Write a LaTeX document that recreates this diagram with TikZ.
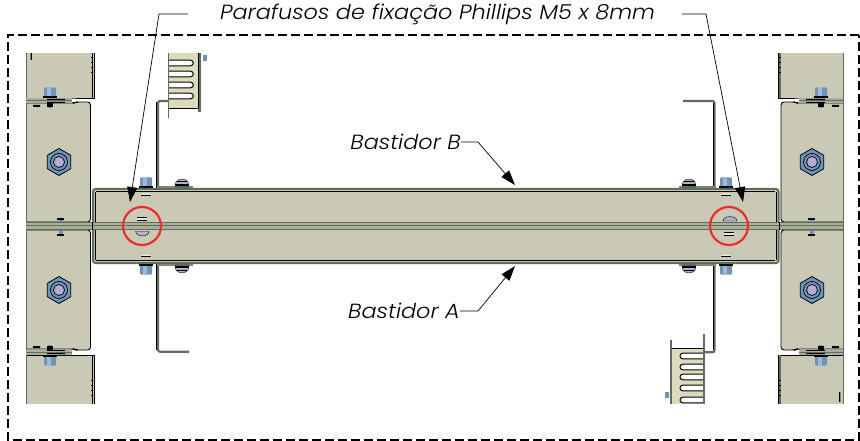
\documentclass[tikz,border=0pt]{standalone}
\usepackage{fontspec}
\setmainfont[FakeStretch=1.09,ItalicFont={Poppins Light Italic}]{Poppins}
\usetikzlibrary{arrows.meta}
\definecolor{plate}{HTML}{C9C9B6}
\definecolor{edge}{HTML}{5F6E5C}
\definecolor{band}{HTML}{A9B09A}
\definecolor{comb}{HTML}{DCDCBC}
\definecolor{blu}{HTML}{6E94BA}
\definecolor{lil}{HTML}{B4B0D2}
\definecolor{redc}{HTML}{EE2C2C}
\tikzset{
  plt/.style={fill=plate,draw=black,line width=.9pt,line join=round},
  gline/.style={draw=edge,line width=1pt},
  brk/.style={draw=edge,line width=2.2pt,line join=round,rounded corners=2pt},
  brkk/.style={draw=black,line width=.8pt},
  lbl/.style={font=\itshape\fontsize{20.5}{22}\selectfont,inner sep=0pt,text=black},
  lead/.style={draw=black,line width=.7pt,-{Triangle[length=15pt,width=10pt]}},
  ring/.style={draw=redc,line width=2.2pt},
  frame/.style={draw=black,line width=2.6pt,dash pattern=on 9pt off 4pt},
}
\newcommand{\hexnut}[2]{%
  \begin{scope}[shift={(#1,#2)}]
    \fill[blu,draw=black,line width=.8pt] (90:13.5)--(30:13.5)--(-30:13.5)--(-90:13.5)--(-150:13.5)--(150:13.5)--cycle;
    \draw[black,line width=.7pt,fill=blu] (0,0) circle (8.5);
    \draw[black,line width=.7pt,fill=lil] (0,0) circle (5.5);
  \end{scope}}
\newcommand{\bluescrew}[3]{%
  \begin{scope}[shift={(#1,#2)},yscale=#3]
    \fill[blu,rounded corners=1pt] (-6,1) rectangle (6,10.5);
    \fill[blu!65!white] (-3,1) rectangle (1,10.5);
    \fill[black] (-7,0) rectangle (7,2);
  \end{scope}}
\newcommand{\silverscrew}[3]{%
  \begin{scope}[shift={(#1,#2)},yscale=#3]
    \fill[lil,draw=black,line width=.4pt] (-7,1.5) -- (7,1.5) -- (6,6) .. controls (3,10) and (-3,10) .. (-6,6) -- cycle;
    \fill[black] (-7,2) rectangle (7,4);
    \fill[black] (-5,6) rectangle (5,6.8);
    \fill[edge] (-7,0) rectangle (7,2);
  \end{scope}}
\newcommand{\dashmark}[2]{%
  \fill[white!60!plate] (#1-5,#2-1.6) rectangle (#1+5,#2+1.6);
  \draw[black,line width=.7pt] (#1-5,#2-1.6) -- (#1+5,#2-1.6) (#1-5,#2+1.6) -- (#1+5,#2+1.6);}
\newcommand{\arcmark}[3]{%
  \fill[white!60!plate] (#1-6,#2) .. controls (#1-3,#2-#3*3) and (#1+3,#2-#3*3) .. (#1+6,#2) -- cycle;
  \draw[black,line width=1pt] (#1-5,#2) -- (#1+5,#2);}
% slot of a comb: open at x=#1, rounded at x=#2, centre y=#3
\newcommand{\slot}[3]{%
  \fill[white] (#1,#3-2.8) -- (#2,#3-2.8) .. controls (#2+3.7,#3-2.8) and (#2+3.7,#3+2.8) .. (#2,#3+2.8) -- (#1,#3+2.8) -- cycle;
  \draw[black,line width=1pt] (#1,#3-2.8) -- (#2,#3-2.8) .. controls (#2+3.7,#3-2.8) and (#2+3.7,#3+2.8) .. (#2,#3+2.8) -- (#1,#3+2.8);}
\newcommand{\slotr}[3]{%
  \fill[white] (#1,#3-2.8) -- (#2,#3-2.8) .. controls (#2-3.7,#3-2.8) and (#2-3.7,#3+2.8) .. (#2,#3+2.8) -- (#1,#3+2.8) -- cycle;
  \draw[black,line width=1pt] (#1,#3-2.8) -- (#2,#3-2.8) .. controls (#2-3.7,#3-2.8) and (#2-3.7,#3+2.8) .. (#2,#3+2.8) -- (#1,#3+2.8);}
\begin{document}
\begin{tikzpicture}[x=1pt,y=-1pt]
\useasboundingbox (0,0) rectangle (860,441);
% frame
\draw[frame] (859,35) -- (8,35) -- (8,440) -- (859,440) -- cycle;

% top comb left
\fill[comb] (168,53) rectangle (199,108);
\foreach \y in {63,74,85,96}{\slot{169}{190.5}{\y}}
\draw[black,line width=.8pt] (168,108) -- (199,108);
\draw[edge,line width=1.6pt] (168.5,53) -- (168.5,118);
\draw[edge,line width=2.6pt] (199.5,53) -- (199.5,112);
\draw[black,line width=.7pt] (198,53) -- (198,108);
\fill[blu] (203,55) rectangle (207,61);
% brackets
\draw[brk] (158,188) -- (158,101) -- (168,101);
\draw[brkk] (156.3,188) -- (156.3,102);
\draw[brk] (158,264) -- (158,351.7) -- (189,351.7);
\draw[brkk] (156.3,264) -- (156.3,350);
\draw[brk] (714.5,188) -- (714.5,101) -- (683,101);
\draw[brkk] (713,188) -- (713,103);
\draw[brk] (714.5,264) -- (714.5,352.3) -- (704,352.3);
\draw[brkk] (713,264) -- (713,350);
% foot strips of the brackets
\foreach \a/\b in {157/193,679/716}{
  \fill[edge!70!plate] (\a,186.3) rectangle (\b,189);
  \fill[edge!70!plate] (\a,263) rectangle (\b,265.7);
}
% bottom-right comb
\fill[comb] (672,348) rectangle (703,404);
\foreach \y in {356,367,377,388,400}{\slotr{703.5}{682.8}{\y}}
\draw[black,line width=.8pt] (672,348) -- (703,348);
\draw[edge,line width=2.6pt] (671,340) -- (671,404);
\draw[edge,line width=1.4pt] (704,334) -- (704,404);
\fill[blu] (665,392) rectangle (669,398);

% left column
\draw[plt] (26,53) -- (26,98) -- (94,98) -- (94,53);
\draw[plt] (26,404) -- (26,355) -- (94,355) -- (94,404);
\draw[plt,rounded corners=3pt] (26,103) -- (74,103) -- (76,102) -- (90.5,102) -- (90.5,222) -- (26,222);
\draw[plt,rounded corners=3pt] (26,230) -- (90.5,230) -- (90.5,350) -- (76,350) -- (74,349) -- (26,349);
\draw[black,line width=.7pt] (92,53) -- (92,98) (92,355) -- (92,404);
\draw[gline] (26,53) -- (26,404);
% right column
\draw[plt] (843,53) -- (843,98) -- (778,98) -- (778,53);
\draw[plt] (843,404) -- (843,355) -- (778,355) -- (778,404);
\draw[plt,rounded corners=3pt] (843,103) -- (797,103) -- (795,102) -- (781,102) -- (781,222) -- (843,222);
\draw[plt,rounded corners=3pt] (843,230) -- (781,230) -- (781,350) -- (795,350) -- (797,349) -- (843,349);
\draw[edge,line width=1.6pt] (779.7,53) -- (779.7,98) (779.7,355) -- (779.7,404);
\draw[gline] (843,53) -- (843,404);
% ticks on the block sides
\foreach \y in {57,62,67,72}{\draw[black,line width=.9pt] (91,\y) -- (93,\y) (91,\y+323) -- (93,\y+323) (778,\y) -- (781,\y) (778,\y+323) -- (781,\y+323);}
\draw[edge!70!plate,line width=1.6pt] (30.5,53) -- (30.5,60) (840.5,392) -- (840.5,402);
\draw[black,line width=.5pt] (31.5,53) -- (31.5,60) (839.5,392) -- (839.5,402);
% upper/lower joints of the columns
\foreach \a/\b in {26/72,799/843}{
  \fill[band] (\a,98.5) rectangle (\b,103);
  \fill[band] (\a,350) rectangle (\b,354.5);
  \draw[edge,line width=.8pt] (\a,100.7) -- (\b,100.7) (\a,352.3) -- (\b,352.3);
}
\fill[white] (72,98.6) rectangle (76,102) (72,351) rectangle (76,354.6) (795,98.6) rectangle (799,102) (795,351) rectangle (799,354.6);
\fill[black] (47,99) rectangle (65,100) (47,102) rectangle (65,102.8) (47,350) rectangle (65,350.8) (47,353) rectangle (65,354);
\fill[black] (806,99) rectangle (825,100) (806,102) rectangle (825,102.8) (806,350) rectangle (825,350.8) (806,353) rectangle (825,354);
\fill[black] (33,105) rectangle (40,107) (33,346) rectangle (40,348);
\fill[black] (832,105) rectangle (839,107) (832,346) rectangle (839,348);

\bluescrew{50}{98}{-1}
\bluescrew{50}{355}{1}
\bluescrew{821}{98}{-1}
\bluescrew{821}{355}{1}
\fill[black] (47,103) rectangle (53,107); \fill[blu] (48,107) rectangle (52,108.5);
\fill[black] (47,346) rectangle (53,350); \fill[blu] (48,344.5) rectangle (52,346);
\fill[black] (818,103) rectangle (824,107); \fill[blu] (819,107) rectangle (823,108.5);
\fill[black] (818,346) rectangle (824,350); \fill[blu] (819,344.5) rectangle (823,346);

\fill[black] (57,217.5) rectangle (64,219.5); \fill[blu] (58.5,219.5) rectangle (62.5,222);
\fill[black] (57,233.5) rectangle (64,235.5); \fill[blu] (58.5,231) rectangle (62.5,233.5);
\fill[black] (808,217.5) rectangle (815,219.5); \fill[blu] (809.5,219.5) rectangle (813.5,222);
\fill[black] (808,233.5) rectangle (815,235.5); \fill[blu] (809.5,231) rectangle (813.5,233.5);

\hexnut{59}{162}
\hexnut{59}{290}
\hexnut{812}{162}
\hexnut{812}{290}

% screws on beam
\bluescrew{146}{188}{-1}
\bluescrew{726}{188}{-1}
\bluescrew{146}{264}{1}
\bluescrew{726}{264}{1}
\silverscrew{182}{188}{-1}
\silverscrew{689}{188}{-1}
\silverscrew{182}{264}{1}
\silverscrew{689}{264}{1}

% beam
\draw[fill=plate,draw=edge,line width=2pt,rounded corners=2.5pt] (93,189) rectangle (778.5,263);
\draw[black,line width=1.1pt] (96,191.7) -- (775,191.7) (96,260.7) -- (775,260.7);
\draw[black,line width=.8pt] (95,192) -- (95,260) (776,192) -- (776,260);
% middle band across the whole width
\fill[band] (26,222) rectangle (843,230);
\draw[edge,line width=1pt] (26,222.3) -- (843,222.3) (26,229.7) -- (843,229.7);
\draw[edge,line width=1.7pt] (26,225.6) -- (843,225.6);
\draw[black,line width=.7pt] (92,222) -- (92,230) (779,222) -- (779,230);
% marks on the beam
\arcmark{146}{195.5}{1}\arcmark{146}{256.5}{1}\arcmark{726}{195.5}{1}\arcmark{726}{256.5}{1}
\dashmark{142}{219}
\dashmark{729}{234}
\fill[lil,draw=black,line width=.4pt] (135.5,231.5) -- (149,231.5) -- (148,234) .. controls (145,236.5) and (140,236.5) .. (137,234) -- cycle;
\fill[lil,draw=black,line width=.4pt] (723,221) -- (737,221) -- (736,218.5) .. controls (733,216) and (727,216) .. (724,218.5) -- cycle;
% circles
\node[ring,circle,minimum size=38pt,inner sep=0pt] (cl) at (142,226) {};
\node[ring,circle,minimum size=38pt,inner sep=0pt] (cr) at (729,226) {};

% labels and leaders
\node[lbl] (tp) at (437.5,14) {Parafusos de fixação Phillips M5 x 8mm};
\node[lbl,anchor=east] (lb) at (461,142) {Bastidor B};
\node[lbl,anchor=east] (la) at (460,311) {Bastidor A};
\coordinate (tl) at (130,202);
\coordinate (tr) at (743,202);
\coordinate (tb) at (515,185);
\coordinate (ta) at (515,266);
\coordinate (kl) at (159,14);
\coordinate (kr) at (706,14);
\coordinate (kb) at (478,142);
\coordinate (ka) at (478,311);
\draw[lead] ([xshift=-32pt]tp.west) -- (kl) -- (tl);
\draw[lead] ([xshift=27pt]tp.east) -- (kr) -- (tr);
\draw[lead] (lb.east) -- (kb) -- (tb);
\draw[lead] (la.east) -- (ka) -- (ta);
\end{tikzpicture}
\end{document}
